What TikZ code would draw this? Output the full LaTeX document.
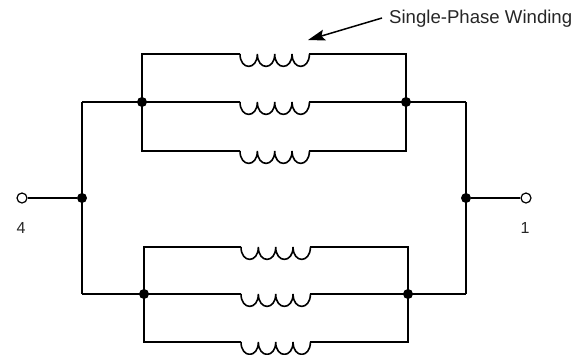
\documentclass[tikz,border=0pt]{standalone}
\usepackage{fontspec}
\setmainfont{Liberation Sans}
\usetikzlibrary{arrows.meta}
\tikzset{
  x=1bp,y=-1bp,
  wire/.style={line width=1.6bp,black,line join=miter,line cap=butt},
  junction/.style={circle,fill=black,draw=none,inner sep=0pt,minimum size=10bp},
  terminal/.style={circle,fill=white,draw=black,line width=1.2bp,inner sep=0pt,minimum size=10bp},
  lbl/.style={inner sep=0pt,font=\fontsize{16bp}{18bp}\selectfont,text=black!85},
  winding/.pic={
    \coordinate (-in) at (0,0);
    \coordinate (-out) at (69.4,0);
    \draw[wire] (0,0) .. controls +(0,16.5) and +(0,16.5) .. (17.35,0)
      .. controls +(0,16.5) and +(0,16.5) .. (34.7,0)
      .. controls +(0,16.5) and +(0,16.5) .. (52.05,0)
      .. controls +(0,16.5) and +(0,16.5) .. (69.4,0);
  }
}
\begin{document}
\begin{tikzpicture}
\useasboundingbox (0,0) rectangle (580,354);
% windings
\pic (wa) at (240,54) {winding};
\pic (wb) at (240,102) {winding};
\pic (wc) at (240,151) {winding};
\pic (wd) at (241,247) {winding};
\pic (we) at (241,294) {winding};
\pic (wf) at (241,342) {winding};
% junctions and corners
\coordinate (tlc) at (82,102);
\coordinate (trc) at (466,102);
\coordinate (blc) at (82,294);
\coordinate (brc) at (466,294);
\node[junction] (jtl) at (142,102) {};
\node[junction] (jtr) at (406,102) {};
\node[junction] (jbl) at (144,294) {};
\node[junction] (jbr) at (408,294) {};
\node[junction] (jl) at (82,198) {};
\node[junction] (jr) at (466,198) {};
% wires
\draw[wire] (wa-in) -| (jtl.center) |- (wc-in);
\draw[wire] (wa-out) -| (jtr.center) |- (wc-out);
\draw[wire] (tlc) -- (wb-in);
\draw[wire] (wb-out) -- (trc);
\draw[wire] (wd-in) -| (jbl.center) |- (wf-in);
\draw[wire] (wd-out) -| (jbr.center) |- (wf-out);
\draw[wire] (blc) -- (we-in);
\draw[wire] (we-out) -- (brc);
\draw[wire] (tlc) -- (blc);
\draw[wire] (trc) -- (brc);
% terminals
\node[terminal] (tl) at (22,198) {};
\node[terminal] (tr) at (526,198) {};
\draw[wire] (tl) -- (jl);
\draw[wire] (jr) -- (tr);
\node[lbl] (four) at (21,228) {4};
\node[lbl] (one) at (525,228) {1};
% annotation
\node[inner sep=0pt,anchor=base west,font=\fontsize{18.6bp}{20bp}\selectfont,text=black!85] (cap) at (389,23) {Single-Phase Winding};
\coordinate (tip) at (308,40);
\coordinate (tail) at (382,18);
\draw[line width=1.5bp,-{Stealth[length=17bp,width=11bp,inset=3bp]}] (tail) -- (tip);
\end{tikzpicture}
\end{document}
